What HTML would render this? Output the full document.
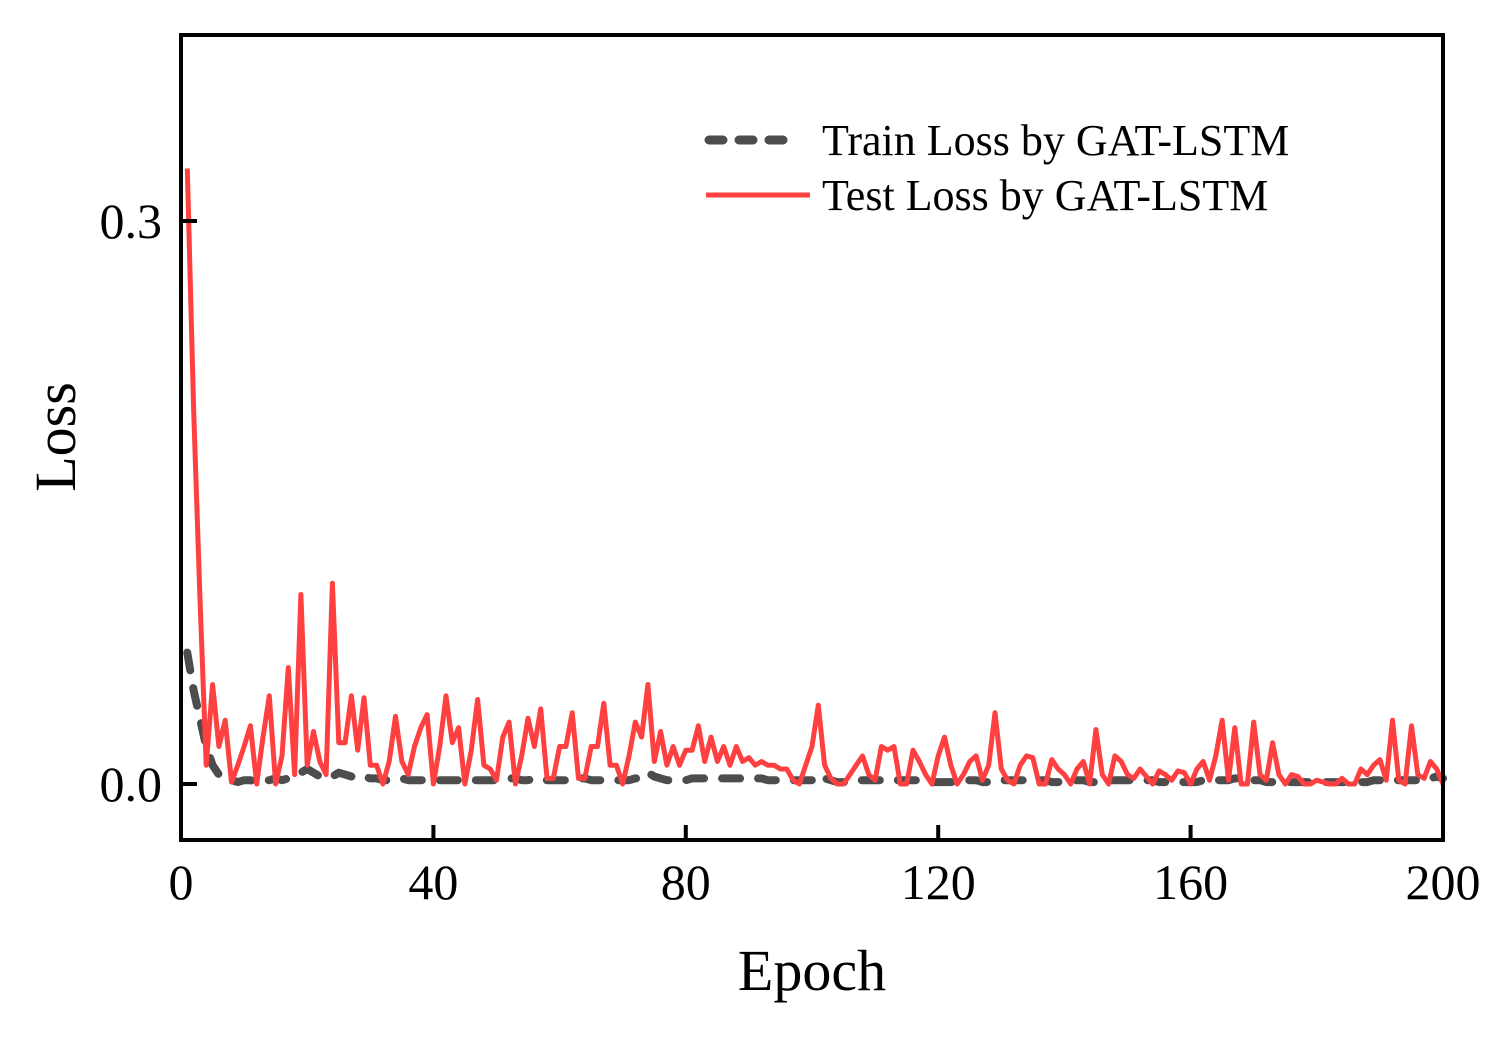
<!DOCTYPE html>
<html><head><meta charset="utf-8"><style>
html,body{margin:0;padding:0;background:#fff;}
svg{display:block;font-family:"Liberation Serif",serif;}
</style></head><body>
<svg id="chart" width="1507" height="1038" viewBox="0 0 1507 1038" xmlns="http://www.w3.org/2000/svg">
<rect x="0" y="0" width="1507" height="1038" fill="#fff"/>
<g id="series"></g>
<rect x="181" y="35" width="1262" height="805" fill="none" stroke="#000" stroke-width="4"/>
<g id="ticks"></g>
<text transform="translate(75,437) rotate(-90)" text-anchor="middle" font-size="58">Loss</text>
<text x="812" y="990" text-anchor="middle" font-size="58">Epoch</text>
<g>
<line x1="709" y1="140" x2="795" y2="140" stroke="#4d4d4d" stroke-width="9" stroke-linecap="round" stroke-dasharray="14,16"/>
<text x="822" y="155" font-size="44">Train Loss by GAT-LSTM</text>
<line x1="706" y1="195" x2="810" y2="195" stroke="#ff4040" stroke-width="5"/>
<text x="822" y="210" font-size="44">Test Loss by GAT-LSTM</text>
</g>
</svg>
<script>
const epochs = [];
for (let i = 1; i <= 200; i++) epochs.push(i);
const testLoss = [
0.328,0.2,0.1,0.01,0.053,0.02,0.034,0.001,0.01,0.02,
0.031,0.0,0.025,0.047,0.0,0.015,0.062,0.005,0.101,0.01,
0.028,0.012,0.005,0.107,0.022,0.022,0.047,0.018,0.046,0.01,
0.01,0.0,0.012,0.036,0.012,0.005,0.02,0.03,0.037,0.0,
0.02,0.047,0.022,0.03,0.0,0.018,0.045,0.01,0.008,0.002,
0.025,0.033,0.0,0.015,0.035,0.02,0.04,0.003,0.003,0.02,
0.02,0.038,0.003,0.003,0.02,0.02,0.043,0.01,0.01,0.0,
0.015,0.033,0.025,0.053,0.012,0.028,0.01,0.02,0.01,0.018,
0.018,0.031,0.012,0.025,0.012,0.02,0.01,0.02,0.012,0.014,
0.01,0.012,0.01,0.01,0.008,0.008,0.002,0.0,0.01,0.02,
0.042,0.01,0.003,0.0,0.0,0.005,0.01,0.015,0.005,0.002,
0.02,0.018,0.02,0.0,0.0,0.018,0.012,0.005,0.0,0.015,
0.025,0.01,0.0,0.005,0.012,0.015,0.002,0.01,0.038,0.008,
0.002,0.0,0.01,0.015,0.014,0.0,0.0,0.013,0.008,0.005,
0.0,0.008,0.012,0.0,0.029,0.005,0.0,0.015,0.012,0.005,
0.003,0.008,0.004,0.0,0.007,0.005,0.002,0.007,0.006,0.0,
0.008,0.012,0.002,0.015,0.034,0.002,0.03,0.0,0.0,0.033,
0.005,0.002,0.022,0.005,0.0,0.005,0.004,0.0,0.0,0.002,
0.001,0.0,0.0,0.003,0.0,0.0,0.008,0.005,0.01,0.013,
0.002,0.034,0.002,0.0,0.031,0.005,0.003,0.012,0.008,0.0];
const trainLoss = [
0.07,0.05,0.035,0.02,0.01,0.005,0.002,0.002,0.001,0.002,
0.002,0.001,0.002,0.002,0.003,0.002,0.003,0.004,0.006,0.008,
0.006,0.004,0.003,0.004,0.006,0.005,0.004,0.005,0.004,0.003,
0.003,0.002,0.002,0.002,0.003,0.002,0.002,0.002,0.002,0.002,
0.002,0.002,0.002,0.002,0.002,0.002,0.002,0.002,0.002,0.002,
0.002,0.003,0.003,0.002,0.002,0.003,0.003,0.002,0.002,0.002,
0.002,0.003,0.003,0.003,0.002,0.002,0.002,0.002,0.002,0.002,
0.002,0.003,0.003,0.006,0.004,0.003,0.002,0.002,0.002,0.002,
0.003,0.003,0.003,0.003,0.003,0.003,0.003,0.003,0.003,0.003,
0.003,0.003,0.002,0.002,0.002,0.002,0.002,0.002,0.002,0.002,
0.005,0.003,0.002,0.001,0.001,0.001,0.002,0.002,0.002,0.002,
0.002,0.002,0.002,0.002,0.002,0.002,0.002,0.002,0.001,0.001,
0.001,0.001,0.001,0.002,0.002,0.002,0.001,0.001,0.001,0.002,
0.002,0.002,0.002,0.002,0.002,0.002,0.002,0.001,0.001,0.002,
0.002,0.002,0.002,0.001,0.001,0.002,0.002,0.002,0.002,0.002,
0.002,0.002,0.002,0.002,0.001,0.001,0.001,0.001,0.001,0.001,
0.001,0.002,0.002,0.002,0.002,0.002,0.003,0.003,0.002,0.002,
0.002,0.001,0.001,0.001,0.001,0.001,0.001,0.001,0.001,0.001,
0.001,0.001,0.001,0.001,0.001,0.001,0.001,0.001,0.002,0.002,
0.002,0.002,0.002,0.002,0.002,0.002,0.003,0.003,0.004,0.003];
const xTicks = [0,40,80,120,160,200];
const yTicks = [0.0,0.3];
const yTickLabels = ["0.0","0.3"];

const X0=181, X1=1443, YB=784, YT=221;
function xs(v){return X0 + (v-0)/(200-0)*(X1-X0);}
function ys(v){return YB - v/0.3*(YB-YT);}
const NS="http://www.w3.org/2000/svg";
const series=document.getElementById('series');
function addLine(vals,name,color,w,dash){
  const p=document.createElementNS(NS,'polyline');
  
  
  p.setAttribute('points', vals.map((v,i)=>xs(epochs[i]).toFixed(1)+','+ys(v).toFixed(1)).join(' '));
  p.setAttribute('fill','none');
  p.setAttribute('stroke',color);
  p.setAttribute('stroke-width',w);
  p.setAttribute('stroke-linejoin','round');
  if(dash){p.setAttribute('stroke-dasharray',dash);p.setAttribute('stroke-linecap','round');}
  series.appendChild(p);
}
addLine(trainLoss,'train-loss-line','#4d4d4d',8,'18,18');
addLine(testLoss,'test-loss-line','#ff4040',5,null);

const ticks=document.getElementById('ticks');
xTicks.forEach(t=>{
  const l=document.createElementNS(NS,'line');
  
  
  l.setAttribute('x1',xs(t));l.setAttribute('x2',xs(t));
  l.setAttribute('y1',840);l.setAttribute('y2',825);
  l.setAttribute('stroke','#000');l.setAttribute('stroke-width',4);
  ticks.appendChild(l);
  const tx=document.createElementNS(NS,'text');
  
  
  tx.setAttribute('x',xs(t));tx.setAttribute('y',899);
  tx.setAttribute('text-anchor','middle');tx.setAttribute('font-size','50');
  tx.textContent=t;
  ticks.appendChild(tx);
});
yTicks.forEach((t,i)=>{
  const l=document.createElementNS(NS,'line');
  
  
  l.setAttribute('x1',181);l.setAttribute('x2',197);
  l.setAttribute('y1',ys(t));l.setAttribute('y2',ys(t));
  l.setAttribute('stroke','#000');l.setAttribute('stroke-width',4);
  ticks.appendChild(l);
  const tx=document.createElementNS(NS,'text');
  
  
  tx.setAttribute('x',162);tx.setAttribute('y',ys(t)+17);
  tx.setAttribute('text-anchor','end');tx.setAttribute('font-size','50');
  tx.textContent=yTickLabels[i];
  ticks.appendChild(tx);
});
</script>
</body></html>
